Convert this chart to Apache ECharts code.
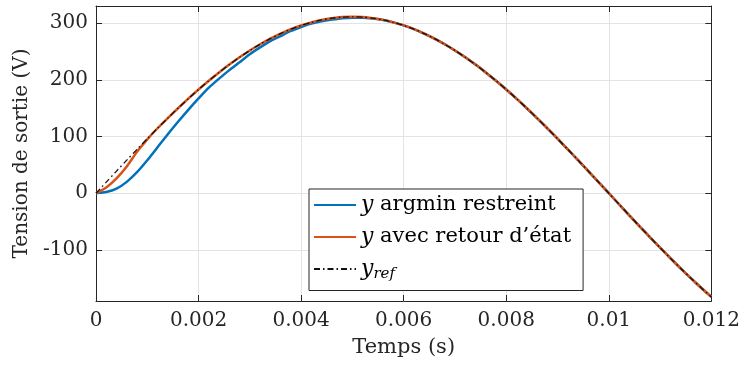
<!DOCTYPE html>
<html>
<head>
<meta charset="utf-8">
<script src="https://cdn.jsdelivr.net/npm/echarts@6/dist/echarts.min.js"></script>
<style>
  html, body { margin: 0; padding: 0; background: #fff; }
  #chart { width: 743px; height: 370px; }
</style>
</head>
<body>
<div id="chart"></div>
<script>
// temps (s)
const temps = [
  0, 0.0002, 0.0004, 0.0006, 0.0008, 0.0010, 0.0012, 0.0014, 0.0016, 0.0018,
  0.0020, 0.0022, 0.0024, 0.0026, 0.0028, 0.0030, 0.0032, 0.0034, 0.0036, 0.0038,
  0.0040, 0.0042, 0.0044, 0.0046, 0.0048, 0.0050, 0.0052, 0.0054, 0.0056, 0.0058,
  0.0060, 0.0062, 0.0064, 0.0066, 0.0068, 0.0070, 0.0072, 0.0074, 0.0076, 0.0078,
  0.0080, 0.0082, 0.0084, 0.0086, 0.0088, 0.0090, 0.0092, 0.0094, 0.0096, 0.0098,
  0.0100, 0.0102, 0.0104, 0.0106, 0.0108, 0.0110, 0.0112, 0.0114, 0.0116, 0.0118,
  0.0120
]
// y argmin restreint
const yArgmin = [
  0, 2, 8, 20, 37, 58, 81, 104, 126, 147,
  167, 186, 202, 217, 231, 245, 257, 268, 277, 286,
  293, 299, 303, 306, 308.5, 309.5, 309.5, 308, 305.5, 301.2,
  295.8, 289.2, 281.4, 272.5, 262.6, 251.6, 239.6, 226.7, 212.9, 198.2,
  182.8, 166.6, 149.8, 132.4, 114.5, 96.1, 77.3, 58.3, 39.0, 19.5,
  0, -19.5, -39.0, -58.3, -77.3, -96.1, -114.5, -132.4, -149.8, -166.6,
  -182.8
]
// y avec retour d'état
const yRetour = [
  0, 10, 26, 47, 73, 95, 114.5, 132.4, 149.8, 166.6,
  182.8, 198.2, 212.9, 226.7, 239.6, 251.6, 262.6, 272.5, 281.4, 289.2,
  295.8, 301.2, 305.5, 308.5, 310.4, 311, 310.4, 308.5, 305.5, 301.2,
  295.8, 289.2, 281.4, 272.5, 262.6, 251.6, 239.6, 226.7, 212.9, 198.2,
  182.8, 166.6, 149.8, 132.4, 114.5, 96.1, 77.3, 58.3, 39.0, 19.5,
  0, -19.5, -39.0, -58.3, -77.3, -96.1, -114.5, -132.4, -149.8, -166.6,
  -182.8
]
// y_ref
const yRef = [
  0, 19.5, 39.0, 58.3, 77.3, 96.1, 114.5, 132.4, 149.8, 166.6,
  182.8, 198.2, 212.9, 226.7, 239.6, 251.6, 262.6, 272.5, 281.4, 289.2,
  295.8, 301.2, 305.5, 308.5, 310.4, 311, 310.4, 308.5, 305.5, 301.2,
  295.8, 289.2, 281.4, 272.5, 262.6, 251.6, 239.6, 226.7, 212.9, 198.2,
  182.8, 166.6, 149.8, 132.4, 114.5, 96.1, 77.3, 58.3, 39.0, 19.5,
  0, -19.5, -39.0, -58.3, -77.3, -96.1, -114.5, -132.4, -149.8, -166.6,
  -182.8
]
const xTicks = [0, 0.002, 0.004, 0.006, 0.008, 0.01, 0.012]
const yTicks = [-100, 0, 100, 200, 300]

const font = 'DejaVu Serif'
const ink = '#262626'
const pairs = ys => temps.map((t, i) => [t, ys[i]])

const axisBase = {
  axisLine: { show: true, onZero: false, lineStyle: { color: ink, width: 1 } },
  axisTick: { show: true, inside: true, length: 6, lineStyle: { color: ink, width: 1 } }
}

const chart = echarts.init(document.getElementById('chart'))
chart.setOption({
  animation: false,
  textStyle: { fontFamily: font },
  grid: { left: 96, top: 6, width: 616, height: 295 },
  legend: {
    orient: 'vertical',
    left: 309,
    top: 189,
    padding: [5, 12, 9, 4],
    itemGap: 10,
    itemWidth: 42,
    itemHeight: 14,
    itemStyle: { opacity: 0 },
    backgroundColor: '#fff',
    borderColor: ink,
    borderWidth: 1,
    borderRadius: 0,
    textStyle: {
      fontFamily: font,
      fontSize: 21,
      color: '#000',
      lineHeight: 22,
      rich: {
        i: { fontFamily: font, fontStyle: 'italic', fontSize: 22, color: '#000' },
        t: { fontFamily: font, fontSize: 21, color: '#000' },
        s: { fontFamily: font, fontStyle: 'italic', fontSize: 15, color: '#000', padding: [10, 0, 0, 0] }
      }
    },
    formatter: name => {
      if (name === 'yref') return '{i|y}{s|ref}'
      return '{i|y}{t|' + name + '}'
    },
    data: [' argmin restreint', ' avec retour d\u2019état', 'yref']
  },
  xAxis: [
    {
      type: 'value',
      min: 0,
      max: 0.012,
      interval: 0.002,
      name: 'Temps (s)',
      nameLocation: 'middle',
      nameGap: 36,
      nameTextStyle: { fontFamily: font, fontSize: 21, color: ink },
      ...axisBase,
      axisLabel: {
        color: ink,
        fontFamily: font,
        fontSize: 20,
        margin: 10,
        customValues: xTicks,
        formatter: v => String(parseFloat(v.toFixed(4)))
      },
      splitLine: { show: true, lineStyle: { color: '#e3e3e3', width: 1 } }
    },
    {
      type: 'value',
      position: 'top',
      min: 0,
      max: 0.012,
      interval: 0.002,
      ...axisBase,
      axisLabel: { show: false },
      splitLine: { show: false }
    }
  ],
  yAxis: [
    {
      type: 'value',
      min: -190,
      max: 330,
      name: 'Tension de sortie (V)',
      nameLocation: 'middle',
      nameGap: 64,
      nameTextStyle: { fontFamily: font, fontSize: 20, color: ink },
      axisLine: { show: true, onZero: false, lineStyle: { color: ink, width: 1 } },
      axisTick: { show: true, inside: true, length: 6, customValues: yTicks, lineStyle: { color: ink, width: 1 } },
      axisLabel: { color: ink, fontFamily: font, fontSize: 20, margin: 8, customValues: yTicks },
      splitLine: { show: true, lineStyle: { color: '#e3e3e3', width: 1 } }
    },
    {
      type: 'value',
      position: 'right',
      min: -190,
      max: 330,
      axisLine: { show: true, onZero: false, lineStyle: { color: ink, width: 1 } },
      axisTick: { show: true, inside: true, length: 6, customValues: yTicks, lineStyle: { color: ink, width: 1 } },
      axisLabel: { show: false },
      splitLine: { show: false }
    }
  ],
  series: [
    {
      name: ' argmin restreint',
      type: 'line',
      data: pairs(yArgmin),
      symbol: 'none',
      smooth: 0.25,
      color: '#0072BD',
      lineStyle: { width: 2.5, color: '#0072BD' }
    },
    {
      name: ' avec retour d\u2019état',
      type: 'line',
      data: pairs(yRetour),
      symbol: 'none',
      smooth: 0.25,
      color: '#D95319',
      lineStyle: { width: 2.5, color: '#D95319' }
    },
    {
      name: 'yref',
      type: 'line',
      data: pairs(yRef),
      symbol: 'none',
      smooth: 0.25,
      color: '#000',
      lineStyle: { width: 1.3, color: '#111', type: [6, 3, 1.5, 3] }
    }
  ]
})
window.addEventListener('resize', () => {
  chart.resize()
})
</script>
</body>
</html>
